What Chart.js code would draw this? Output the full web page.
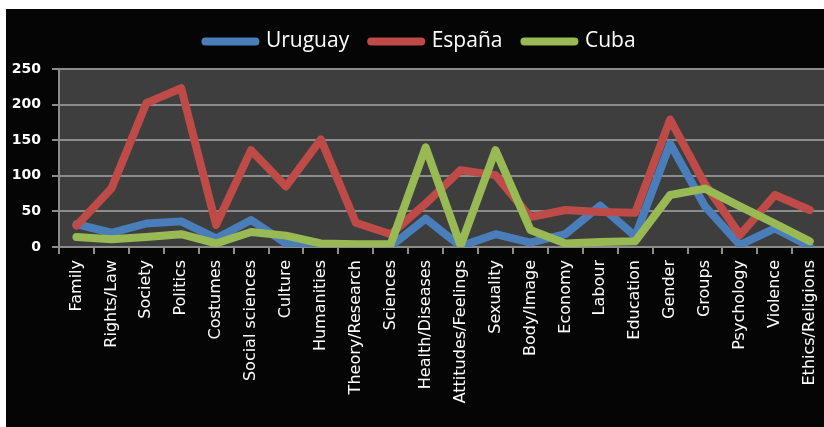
<!DOCTYPE html>
<html>
<head>
<meta charset="utf-8">
<script src="https://cdn.jsdelivr.net/npm/chart.js@4/dist/chart.umd.min.js"></script>
<style>
  html, body { margin: 0; padding: 0; background: #ffffff; overflow: hidden; width: 824px; height: 427px; }
  #box { position: absolute; left: 6px; top: 9px; width: 840px; height: 418px; background: #050505; }
  canvas { display: block; }
</style>
</head>
<body>
<div id="box"><canvas id="c" width="829" height="418"></canvas></div>
<script>
const categories = ["Family","Rights/Law","Society","Politics","Costumes","Social sciences","Culture","Humanities","Theory/Research","Sciences","Health/Diseases","Attitudes/Feelings","Sexuality","Body/Image","Economy","Labour","Education","Gender","Groups","Psychology","Violence","Ethics/Religions"];
const uruguay = [32, 20, 33, 36, 12, 38, 5, 1, 1, 1, 40, 1, 18, 6, 18, 58, 15, 145, 57, 3, 26, 1];
const espana  = [30, 82, 202, 223, 31, 136, 85, 151, 34, 18, 61, 108, 101, 42, 52, 49, 48, 179, 88, 17, 73, 52];
const cuba    = [14, 11, 14, 18, 5, 21, 16, 5, 4, 4, 140, 2, 136, 24, 5, 7, 8, 73, 82, 57, 33, 8];
const yTicks = [0, 50, 100, 150, 200, 250];
const colors = ['#4a7ebb', '#be4b48', '#98b954'];

const plotBg = {
  id: 'plotBg',
  beforeDraw(chart) {
    const {ctx, chartArea: a} = chart;
    ctx.save();
    ctx.fillStyle = '#3e3e3e';
    ctx.fillRect(a.left, a.top, a.right - a.left, a.bottom - a.top);
    ctx.restore();
  }
};
const legendFit = {
  id: 'legendFit',
  afterInit(chart) {
    const lg = chart.legend;
    if (lg) {
      const orig = lg.fit;
      lg.fit = function() { orig.call(this); this.height = 60; };
    }
  }
};

function ds(label, data, color, order) {
  return { label, data, borderColor: color, backgroundColor: color, borderWidth: 8,
    pointRadius: 0, pointHoverRadius: 0, tension: 0, fill: false,
    borderCapStyle: 'round', borderJoinStyle: 'round', order };
}

new Chart(document.getElementById('c'), {
  type: 'line',
  data: {
    labels: categories,
    datasets: [
      ds('Uruguay', uruguay, colors[0], 3),
      ds('España', espana, colors[1], 2),
      ds('Cuba', cuba, colors[2], 1)
    ]
  },
  plugins: [plotBg, legendFit],
  options: {
    responsive: false,
    animation: false,
    layout: { padding: { left: 0, right: 0, top: 0, bottom: 0 } },
    plugins: {
      legend: {
        position: 'top',
        labels: {
          color: '#ffffff',
          font: { family: 'Open Sans', size: 21 },
          usePointStyle: true,
          pointStyle: 'line',
          pointStyleWidth: 50,
          boxHeight: 20,
          padding: 22,
          sort: (a, b) => a.datasetIndex - b.datasetIndex,
          generateLabels(chart) {
            const items = Chart.defaults.plugins.legend.labels.generateLabels(chart);
            items.forEach(it => {
              const d = chart.data.datasets[it.datasetIndex];
              it.lineWidth = 8;
              it.lineCap = 'round';
              it.pointStyle = 'line';
              it.strokeStyle = d.borderColor;
              it.fillStyle = d.borderColor;
            });
            return items;
          }
        }
      },
      tooltip: { enabled: false }
    },
    scales: {
      x: {
        offset: true,
        grid: { display: true, drawOnChartArea: false, drawTicks: true, tickLength: 7, color: '#8c8c8c', lineWidth: 2, offset: true },
        border: { display: true, color: '#8c8c8c', width: 2 },
        ticks: { color: '#ffffff', font: { family: 'DejaVu Sans', size: 16 }, minRotation: 90, maxRotation: 90, autoSkip: false, padding: 6 },
        afterFit(s) { s.height = 180; }
      },
      y: {
        min: 0, max: 250,
        afterBuildTicks(s) { s.ticks = yTicks.map(v => ({ value: v })); },
        grid: { color: '#8c8c8c', lineWidth: 2, tickLength: 7, drawTicks: true },
        border: { display: true, color: '#8c8c8c', width: 2 },
        ticks: { color: '#ffffff', font: { family: 'DejaVu Sans', size: 14, weight: 'bold' }, padding: 11 },
        afterFit(s) { s.width = 53; }
      }
    }
  }
});
</script>
</body>
</html>
